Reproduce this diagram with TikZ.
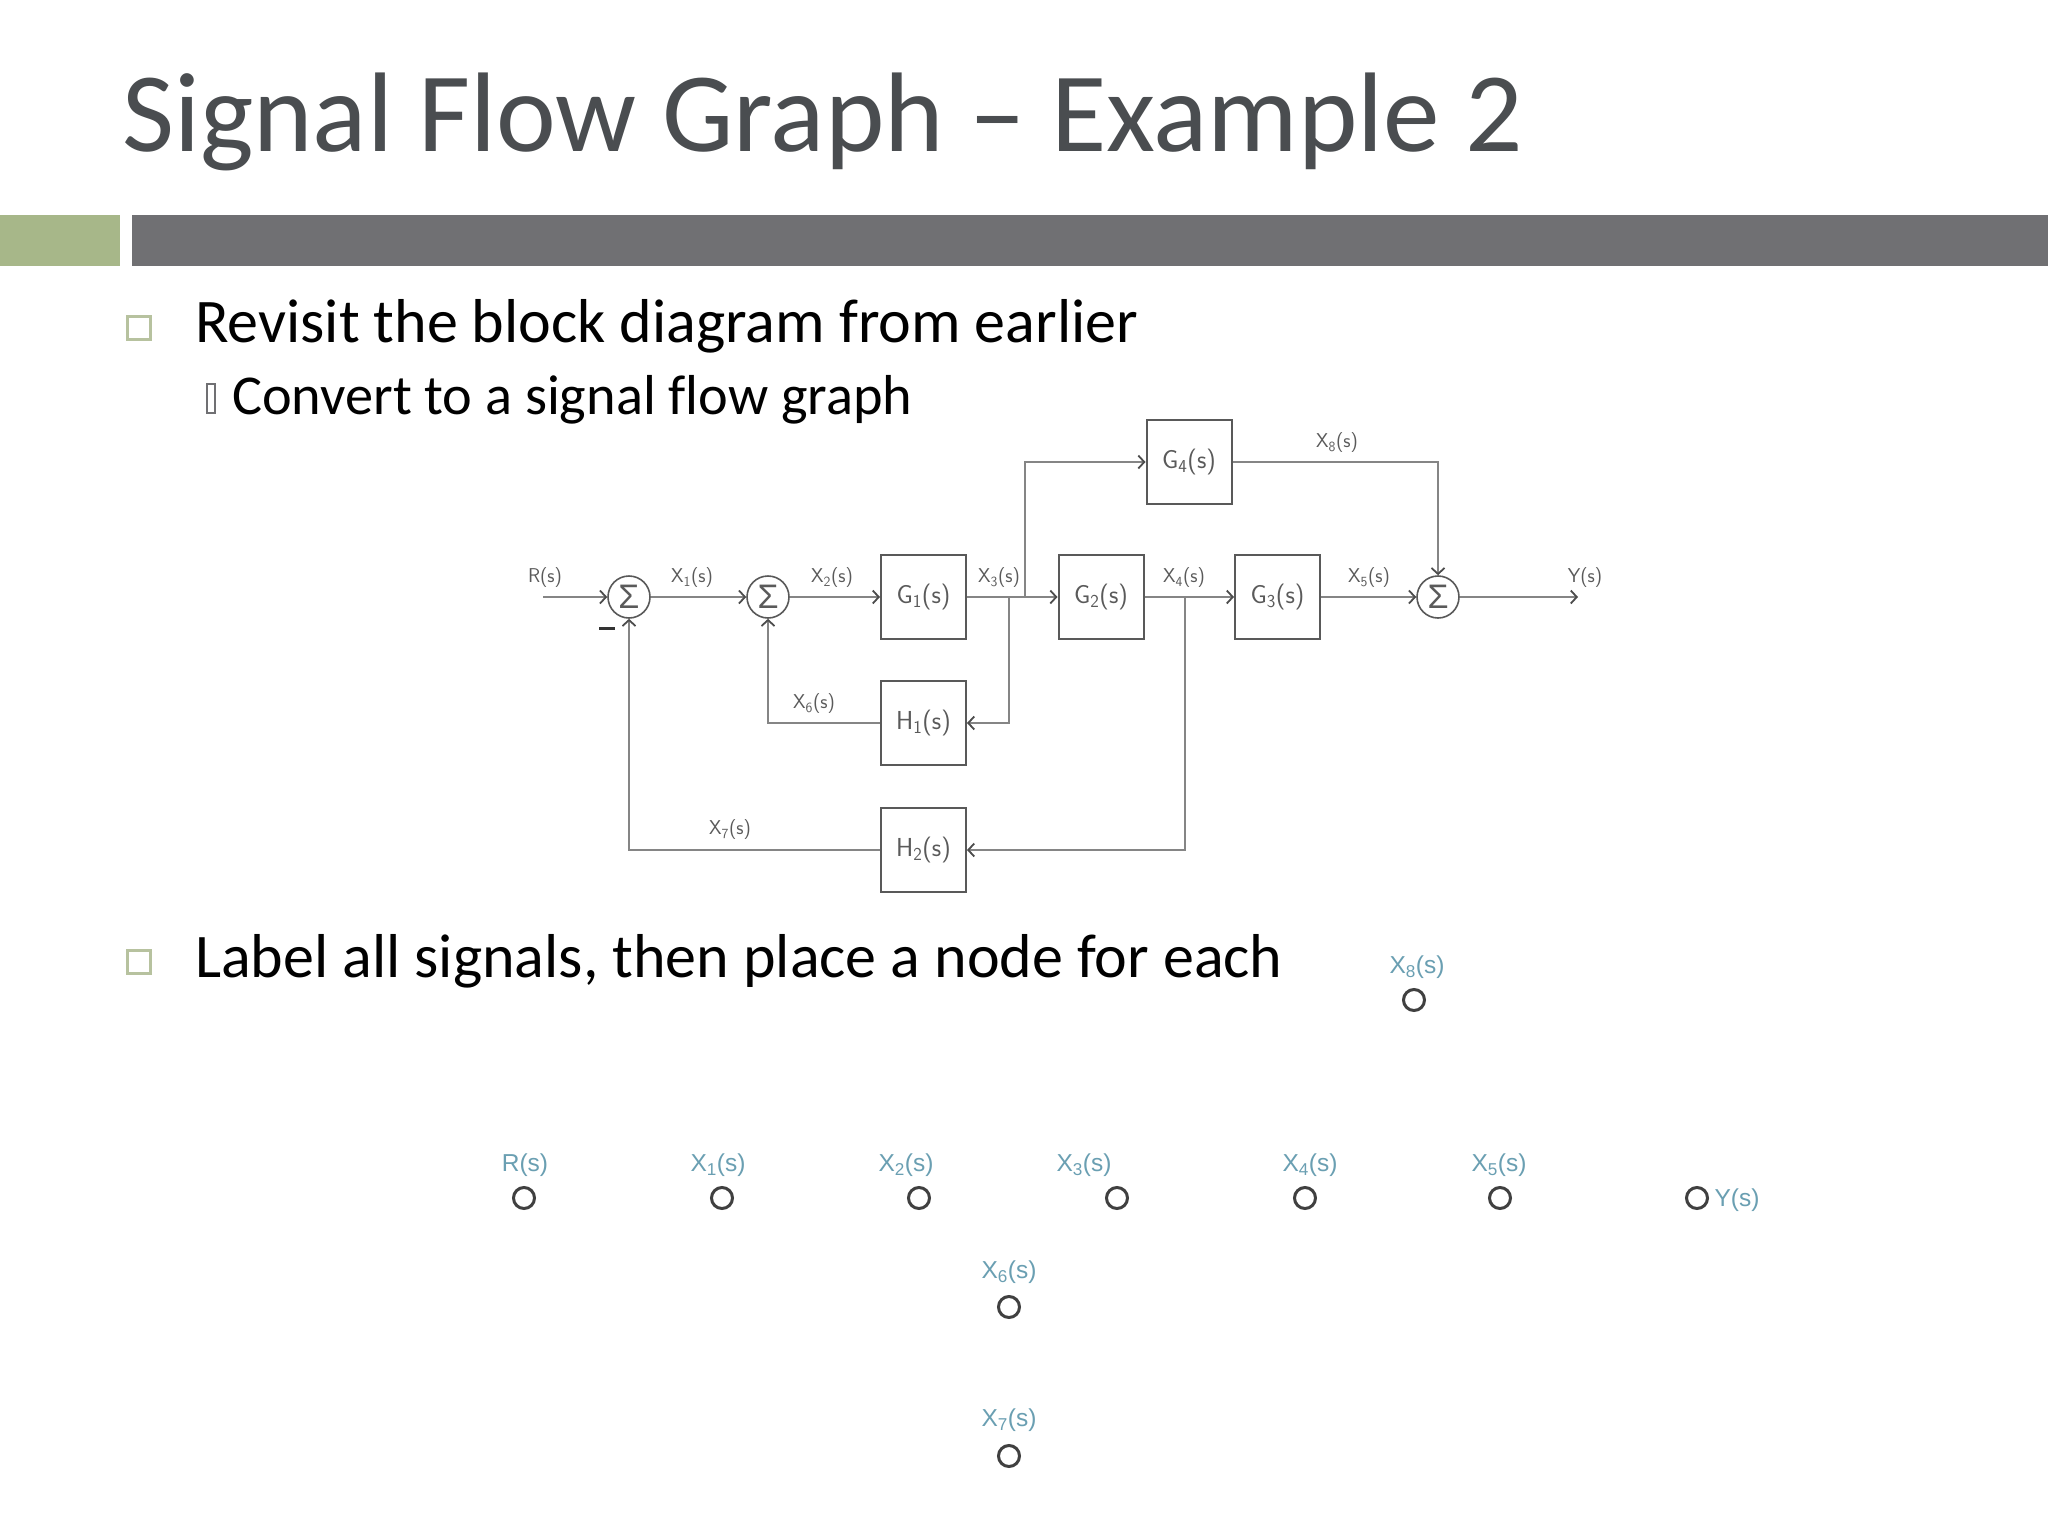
\documentclass[tikz,border=0pt]{standalone}
\usepackage{fontspec}
\setmainfont[Ligatures=NoCommon]{Carlito}
\newfontfamily\diagfont{Liberation Sans}
\usetikzlibrary{arrows.meta}
\definecolor{titlecol}{HTML}{4A4D50}
\definecolor{barcol}{HTML}{707073}
\definecolor{greencol}{HTML}{A7B789}
\definecolor{bulletcol}{HTML}{B7C29F}
\definecolor{linecol}{HTML}{858585}
\definecolor{blocktext}{HTML}{5A5A5A}
\definecolor{labelcol}{HTML}{6A9FB2}
\newcommand{\sg}[1]{X\textsubscript{#1}(s)}
\tikzset{
  txt/.style={inner sep=0pt,anchor=base west},
  blk/.style={draw=black!65,line width=2pt,fill=white,minimum width=85pt,minimum height=84pt,inner sep=0pt,text=blocktext,font=\sffamily\fontsize{26}{26}\selectfont},
  sumn/.style={draw=black!65,line width=1.6pt,circle,minimum size=42pt,inner sep=0pt,fill=white,text=blocktext,font=\diagfont\fontsize{34}{34}\selectfont},
  sig/.style={inner sep=0pt,text=blocktext,font=\sffamily\fontsize{20}{20}\selectfont},
  wire/.style={draw=linecol,line width=2.8pt},
  flow/.style={wire,-{Straight Barb[length=6pt,width=13pt,line width=1.8pt,black!70]}},
  gnode/.style={draw=black!75,line width=3pt,circle,minimum size=21pt,inner sep=0pt},
  glab/.style={inner sep=0pt,text=labelcol,font=\diagfont\fontsize{24.5}{24.5}\selectfont},
  bull/.style={draw=bulletcol,line width=3pt,minimum size=23pt,inner sep=0pt},
}
\begin{document}
\begin{tikzpicture}[x=1pt,y=-1pt]
\useasboundingbox (0,0) rectangle (2048,1536);
\fill[white] (0,0) rectangle (2048,1536);
% header
\node[txt,text=titlecol,font=\fontsize{113.2}{113.2}\selectfont] (title) at (122,151) {Signal Flow Graph – Example 2};
\fill[greencol] (0,215) rectangle (120,266);
\fill[barcol] (132,215) rectangle (2048,266);
% bullets
\node[bull] (b1) at (139,328) {};
\node[bull] (b2) at (139,962) {};
\draw[draw=barcol,line width=2pt] (206.5,384) rectangle (214.5,413);
\node[txt,font=\fontsize{62}{62}\selectfont] (t1) at (195,342) {Revisit the block diagram from earlier};
\node[txt,font=\fontsize{56.3}{56.3}\selectfont] (t2) at (232,414) {Convert to a signal f\kern0pt low graph};
\node[txt,font=\fontsize{62}{62}\selectfont] (t3) at (195,977) {Label all signals, then place a node for each};
% block diagram
\node[sumn] (s1) at (629,597) {Σ};
\node[sumn] (s2) at (768,597) {Σ};
\node[sumn] (s3) at (1438,597) {Σ};
\node[blk] (G1) at (923.5,597) {G\textsubscript{1}(s)};
\node[blk] (G2) at (1101,597) {G\textsubscript{2}(s)};
\node[blk] (G3) at (1277.5,597) {G\textsubscript{3}(s)};
\node[blk] (G4) at (1189,462) {G\textsubscript{4}(s)};
\node[blk] (H1) at (923.5,723) {H\textsubscript{1}(s)};
\node[blk] (H2) at (923.5,850) {H\textsubscript{2}(s)};
\coordinate (in) at (543,597);
\coordinate (out) at (1578,597);
\coordinate (j3a) at (1009,597);
\coordinate (j3b) at (1025,597);
\coordinate (j4) at (1185,597);
\draw[flow] (in) -- (s1);
\draw[flow] (s1) -- (s2);
\draw[flow] (s2) -- (G1);
\draw[flow] (G1) -- (G2);
\draw[flow] (G2) -- (G3);
\draw[flow] (G3) -- (s3);
\draw[flow] (s3) -- (out);
\draw[flow] (j3a) |- (H1.east);
\draw[flow] (j4) |- (H2.east);
\draw[flow] (j3b) |- (G4.west);
\draw[flow] (G4.east) -| (s3.north);
\draw[flow] (H1.west) -| (s2.south);
\draw[flow] (H2.west) -| (s1.south);
\draw[draw=black!80,line width=3pt] (599,628) -- (615,628);
\node[sig] (lr) at (545,578) {R(s)};
\node[sig] (l1) at (692,578) {\sg{1}};
\node[sig] (l2) at (832,578) {\sg{2}};
\node[sig] (l3) at (999,578) {\sg{3}};
\node[sig] (l4) at (1184,578) {\sg{4}};
\node[sig] (l5) at (1369,578) {\sg{5}};
\node[sig] (ly) at (1585,578) {Y(s)};
\node[sig] (l8) at (1337,443) {\sg{8}};
\node[sig] (l6) at (814,704) {\sg{6}};
\node[sig] (l7) at (730,830) {\sg{7}};
% signal flow nodes
\node[gnode] (nR) at (524,1198) {};
\node[gnode] (n1) at (722,1198) {};
\node[gnode] (n2) at (919,1198) {};
\node[gnode] (n3) at (1117,1198) {};
\node[gnode] (n4) at (1305,1198) {};
\node[gnode] (n5) at (1500,1198) {};
\node[gnode] (nY) at (1697,1198) {};
\node[gnode] (n6) at (1009,1307) {};
\node[gnode] (n7) at (1009,1456) {};
\node[gnode] (n8) at (1414,1000) {};
\node[glab] at (525,1165) {R(s)};
\node[glab] at (718,1165) {\sg{1}};
\node[glab] at (906,1165) {\sg{2}};
\node[glab] at (1084,1165) {\sg{3}};
\node[glab] at (1310,1165) {\sg{4}};
\node[glab] at (1499,1165) {\sg{5}};
\node[glab] at (1737,1200) {Y(s)};
\node[glab] at (1009,1272) {\sg{6}};
\node[glab] at (1009,1420) {\sg{7}};
\node[glab] at (1417,967) {\sg{8}};
\end{tikzpicture}
\end{document}
